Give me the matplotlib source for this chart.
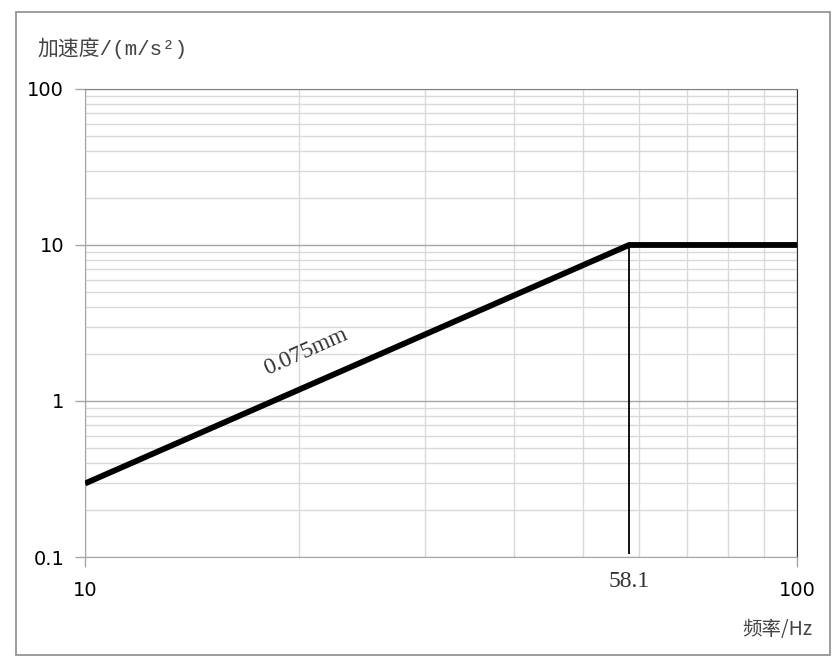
import matplotlib
matplotlib.use("Agg")
import matplotlib.pyplot as plt
from matplotlib.patches import Rectangle
from matplotlib.ticker import FixedLocator, NullFormatter

# vibration limit curve: 0.075 mm displacement up to crossover, then constant acceleration
freq = [10, 58.1, 100]
accel = [0.296, 10, 10]
crossover = 58.1
x_major = [10, 100]
x_minor = [20, 30, 40, 50, 60, 70, 80, 90]
y_major = [0.1, 1, 10, 100]
y_major_labels = ["0.1", "1", "10", "100"]
y_minor = [m * 10.0 ** e for e in (-1, 0, 1) for m in range(2, 10)]

fig = plt.figure(figsize=(8.4, 6.65), dpi=100)
ax = fig.add_axes([0.1012, 0.1624, 0.8476, 0.7038])
ax.set_xscale("log")
ax.set_yscale("log")
ax.set_xlim(10, 100)
ax.set_ylim(0.1, 100)

ax.xaxis.set_major_locator(FixedLocator(x_major))
ax.xaxis.set_minor_locator(FixedLocator(x_minor))
ax.yaxis.set_major_locator(FixedLocator(y_major))
ax.yaxis.set_minor_locator(FixedLocator(y_minor))
ax.set_xticklabels(["10", "100"])
ax.set_yticklabels(y_major_labels)
ax.xaxis.set_minor_formatter(NullFormatter())
ax.yaxis.set_minor_formatter(NullFormatter())

ax.grid(which="major", color="#a6a6a6", linewidth=1.0)
ax.grid(which="minor", color="#d9d9d9", linewidth=1.0)
ax.set_axisbelow(True)

ax.tick_params(which="major", length=7, width=1, color="#a6a6a6",
               labelsize=14)
ax.tick_params(which="minor", length=0)
ax.tick_params(axis="x", pad=10)
ax.tick_params(axis="y", pad=8)

for s in ("left", "bottom"):
    ax.spines[s].set_color("#a6a6a6")
ax.spines["top"].set_color("#808080")
ax.spines["right"].set_color("#303030")

ax.plot(freq, accel, color="black", linewidth=4.2, solid_capstyle="butt",
        solid_joinstyle="miter", zorder=3)
ax.vlines(crossover, 0.105, 10, color="black", linewidth=1.3, zorder=3)

ax.text(crossover, 0.0695, "58.1", fontsize=17, family="Liberation Serif",
        ha="center", va="center", color="#333333")
ax.text(20.4, 2.06, "0.075mm", fontsize=17, family="Liberation Serif",
        rotation=24, ha="center", va="center", color="#333333")

fig.text(0.045, 0.928, "加速度/(m/s²)", fontsize=15,
         family=["Liberation Mono", "Noto Sans CJK SC"], color="#444444",
         ha="left", va="center")
fig.text(0.967, 0.053, "频率/Hz", fontsize=14,
         family=["Noto Sans CJK SC", "DejaVu Sans"], color="#444444",
         ha="right", va="center")

fig.patches.append(Rectangle((0.019, 0.015), 0.969, 0.967, transform=fig.transFigure,
                             fill=False, edgecolor="#8c8c8c", linewidth=1.2))

fig.savefig("out.png", dpi=100)
